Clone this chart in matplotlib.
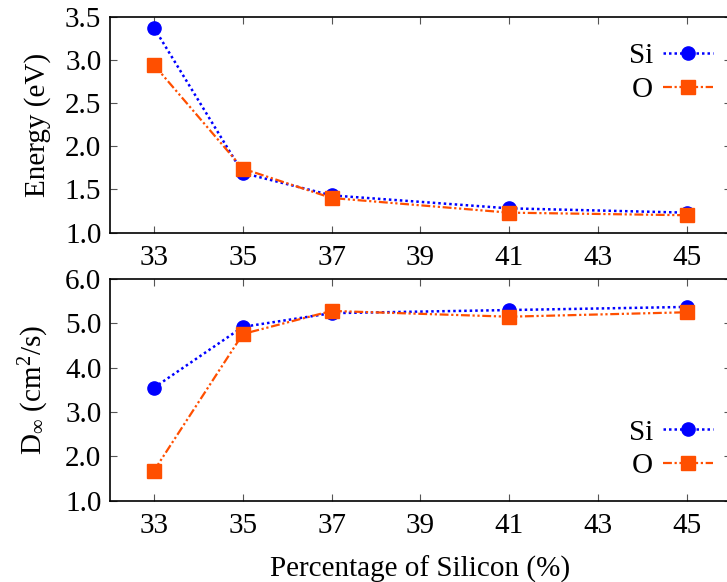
import matplotlib
matplotlib.use('Agg')
import matplotlib.pyplot as plt

plt.rcParams['font.family'] = ['Liberation Serif', 'DejaVu Serif']
plt.rcParams['mathtext.fontset'] = 'custom'
plt.rcParams['mathtext.rm'] = 'Liberation Serif'
plt.rcParams['mathtext.it'] = 'Liberation Serif:italic'
plt.rcParams['font.size'] = 21

# данные
silicon = [33, 35, 37, 41, 45]
energy_si = [3.37, 1.69, 1.43, 1.28, 1.23]
energy_o = [2.94, 1.74, 1.40, 1.23, 1.20]
diff_si = [3.55, 4.92, 5.23, 5.30, 5.37]
diff_o = [1.68, 4.76, 5.28, 5.15, 5.25]
xticks = [33, 35, 37, 39, 41, 43, 45]

blue = '#0000ff'
orange = '#ff4f00'

fig = plt.figure(figsize=(7.27, 5.82), dpi=100)
ax1 = fig.add_axes([0.1509, 0.6005, 0.8546, 0.3708])
ax2 = fig.add_axes([0.1509, 0.1397, 0.8546, 0.3809])


def draw(ax, ys, yo):
    ax.plot(silicon, ys, color=blue, lw=1.8, linestyle=(0, (1, 1.2)),
            marker='o', ms=9.5, label='Si')
    ax.plot(silicon, yo, color=orange, lw=1.6, linestyle=(0, (4, 1.2, 1, 1.2, 1, 1.2)),
            marker='s', ms=9.5, label='O')
    ax.set_xlim(32, 46)
    ax.set_xticks(xticks)
    ax.tick_params(direction='in', top=True, right=True, length=5, width=0.8,
                   color='#555555')
    ax.tick_params(axis='x', pad=9)
    ax.tick_params(axis='y', pad=6)
    for s in ax.spines.values():
        s.set_linewidth(1.2)


draw(ax1, energy_si, energy_o)
ax1.set_ylim(1.0, 3.5)
ax1.set_yticks([1.0, 1.5, 2.0, 2.5, 3.0, 3.5])
ax1.set_yticklabels(['1.0', '1.5', '2.0', '2.5', '3.0', '3.5'])
ax1.set_ylabel('Energy (eV)', labelpad=10)
ax1.legend(loc='center right', bbox_to_anchor=(0.9803, 0.8745), bbox_transform=fig.transFigure,
           frameon=False, markerfirst=False, borderpad=0, borderaxespad=0,
           handlelength=1.7, handletextpad=0.35, labelspacing=0.25)

draw(ax2, diff_si, diff_o)
ax2.set_ylim(1.0, 6.0)
ax2.set_yticks([1, 2, 3, 4, 5, 6])
ax2.set_yticklabels(['1.0', '2.0', '3.0', '4.0', '5.0', '6.0'])
ax2.set_ylabel(r'D$_\infty$ (cm$^2$/s)', labelpad=10)
ax2.set_xlabel('Percentage of Silicon (%)', labelpad=12)
ax2.legend(loc='center right', bbox_to_anchor=(0.9803, 0.2281), bbox_transform=fig.transFigure,
           frameon=False, markerfirst=False, borderpad=0, borderaxespad=0,
           handlelength=1.7, handletextpad=0.35, labelspacing=0.25)

plt.savefig('out.png', dpi=100)
